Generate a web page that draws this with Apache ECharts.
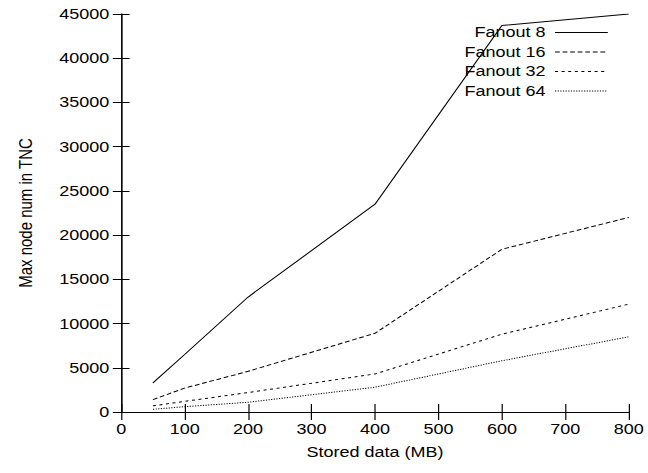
<!DOCTYPE html>
<html>
<head>
<meta charset="utf-8">
<script src="https://cdn.jsdelivr.net/npm/echarts@6/dist/echarts.min.js"></script>
</head>
<body style="margin:0;width:648px;height:473px;overflow:hidden;background:#fff">
<!-- gnuplot text is wide, so draw at 540px and stretch horizontally -->
<div id="container" style="width:540px;height:473px;transform:scaleX(1.2);transform-origin:0 0"></div>
<script type="text/javascript">
var storedData = [50, 100, 200, 400, 600, 800];
var fanout8 = [3300, 6500, 13000, 23500, 43700, 45000];
var fanout16 = [1400, 2700, 4600, 8900, 18400, 22000];
var fanout32 = [700, 1200, 2200, 4300, 8800, 12200];
var fanout64 = [300, 600, 1100, 2800, 5800, 8500];
var seriesNames = ['Fanout 8', 'Fanout 16', 'Fanout 32', 'Fanout 64'];

function pairs(ys) {
  return storedData.map(function (x, i) { return [x, ys[i]]; });
}

var font = 'Liberation Sans, Arial, sans-serif';
var dashes = ['solid', [4, 2.3], [2.5, 3], [1, 1.2]];
var values = [fanout8, fanout16, fanout32, fanout64];

var myChart = echarts.init(document.getElementById('container'), null, {renderer: 'svg'});

var axisCommon = {
  axisLine: {show: true, lineStyle: {color: '#000', width: 1}},
  axisTick: {show: true, inside: true, lineStyle: {color: '#000'}},
  splitLine: {show: false}
};
var plain = function (v) { return String(v); };

var option = {
  animation: false,
  textStyle: {fontFamily: font},
  grid: {left: 101, right: 16, top: 14, bottom: 61},
  legend: {
    data: seriesNames,
    orient: 'vertical',
    align: 'right',
    right: 28,
    top: 20,
    itemWidth: 44,
    itemHeight: 14,
    itemGap: 4.5,
    itemStyle: {opacity: 0},
    lineStyle: {width: 1},
    textStyle: {fontSize: 15, color: '#000', fontFamily: font, padding: [0, 3, 0, 0]}
  },
  xAxis: [
    echarts.util.merge({
      type: 'value', min: 0, max: 800, interval: 100,
      name: 'Stored data (MB)', nameLocation: 'middle', nameGap: 33,
      nameTextStyle: {fontSize: 15, color: '#000'},
      axisLabel: {fontSize: 15, color: '#000', margin: 10, formatter: plain},
      axisTick: {length: 8}
    }, axisCommon, false),
    echarts.util.merge({
      type: 'value', min: 0, max: 800, interval: 100, position: 'top',
      axisLabel: {show: false},
      axisTick: {length: 8}
    }, axisCommon, false)
  ],
  yAxis: [
    echarts.util.merge({
      type: 'value', min: 0, max: 45000, interval: 5000,
      name: 'Max node num in TNC', nameLocation: 'middle', nameGap: 72,
      nameTextStyle: {fontSize: 15, color: '#000'},
      axisLabel: {fontSize: 15, color: '#000', margin: 10, formatter: plain},
      axisTick: {length: 7}
    }, axisCommon, false),
    echarts.util.merge({
      type: 'value', min: 0, max: 45000, interval: 5000, position: 'right',
      axisLabel: {show: false},
      axisTick: {length: 7}
    }, axisCommon, false)
  ],
  series: seriesNames.map(function (name, i) {
    return {
      name: name,
      type: 'line',
      symbol: 'none',
      xAxisIndex: 0,
      yAxisIndex: 0,
      data: pairs(values[i]),
      lineStyle: {color: '#000', width: 1, type: dashes[i]},
      itemStyle: {color: '#000'}
    };
  })
};
myChart.setOption(option, true);
</script>
</body>
</html>
